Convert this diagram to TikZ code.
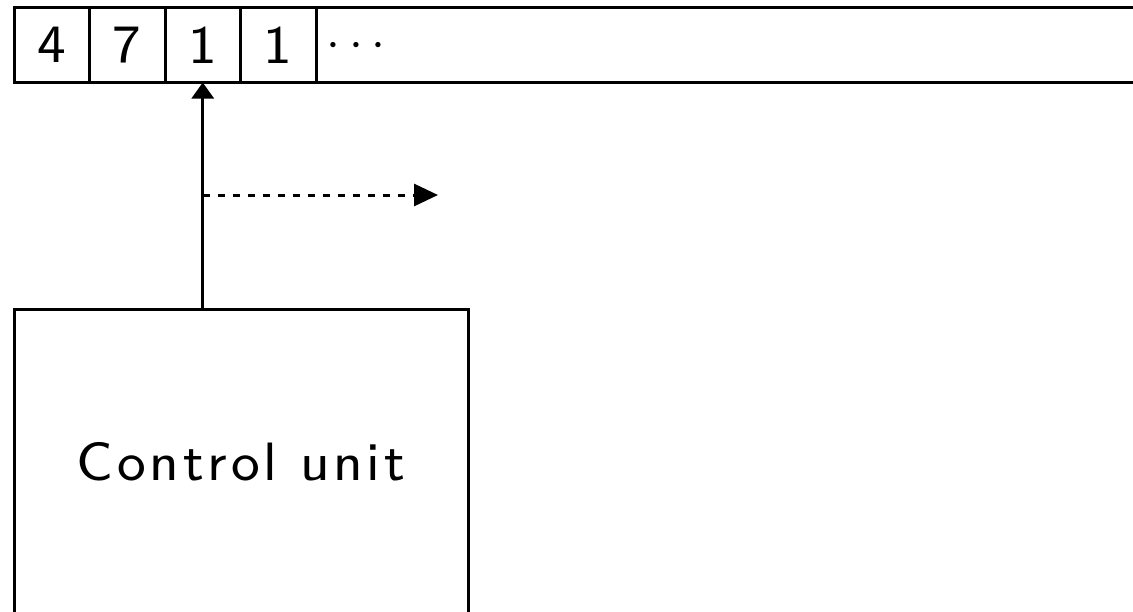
\documentclass[tikz,border=0pt]{standalone}
\usepackage{fontspec}
\newfontfamily\labelfont[LetterSpace=7]{lmsans8-regular.otf}
\usetikzlibrary{arrows.meta}
\begin{document}
\begin{tikzpicture}[x=0.5pt,y=-0.5pt,line width=1.5pt,
  font=\labelfont\fontsize{27}{32}\selectfont,
  cell/.style={draw,minimum width=37.75pt,minimum height=37.5pt,inner sep=0pt,outer sep=0pt},
  unitbox/.style={draw,minimum width=227pt,minimum height=152.5pt,inner sep=0pt},
  tip/.style={-{Triangle[length=8pt,width=11pt]}},
  dashedline/.style={dash pattern=on 3.75pt off 3.75pt}]
\useasboundingbox (0,0) rectangle (1133,611);
\clip (0,0) rectangle (1133,611);
\node[cell] (c1) at (51.75,45) {4};
\node[cell] (c2) at (127.25,45) {7};
\node[cell] (c3) at (202.75,45) {1};
\node[cell] (c4) at (278.25,45) {1};
\node[draw,minimum width=450pt,minimum height=37.5pt,inner sep=0pt,outer sep=0pt,anchor=west] (rest) at (c4.east) {};
\node (dots) at (356,46) {$\cdots$};
\node[unitbox] (cu) at (241,462) {Control unit};
\draw[tip] (c3.south |- cu.north) -- (c3.south);
\coordinate (j) at (202.75,195);
\coordinate (e) at (438,195);
\draw[dashedline,-{Triangle[length=12pt,width=11pt]}] (j) -- (e);
\end{tikzpicture}
\end{document}
